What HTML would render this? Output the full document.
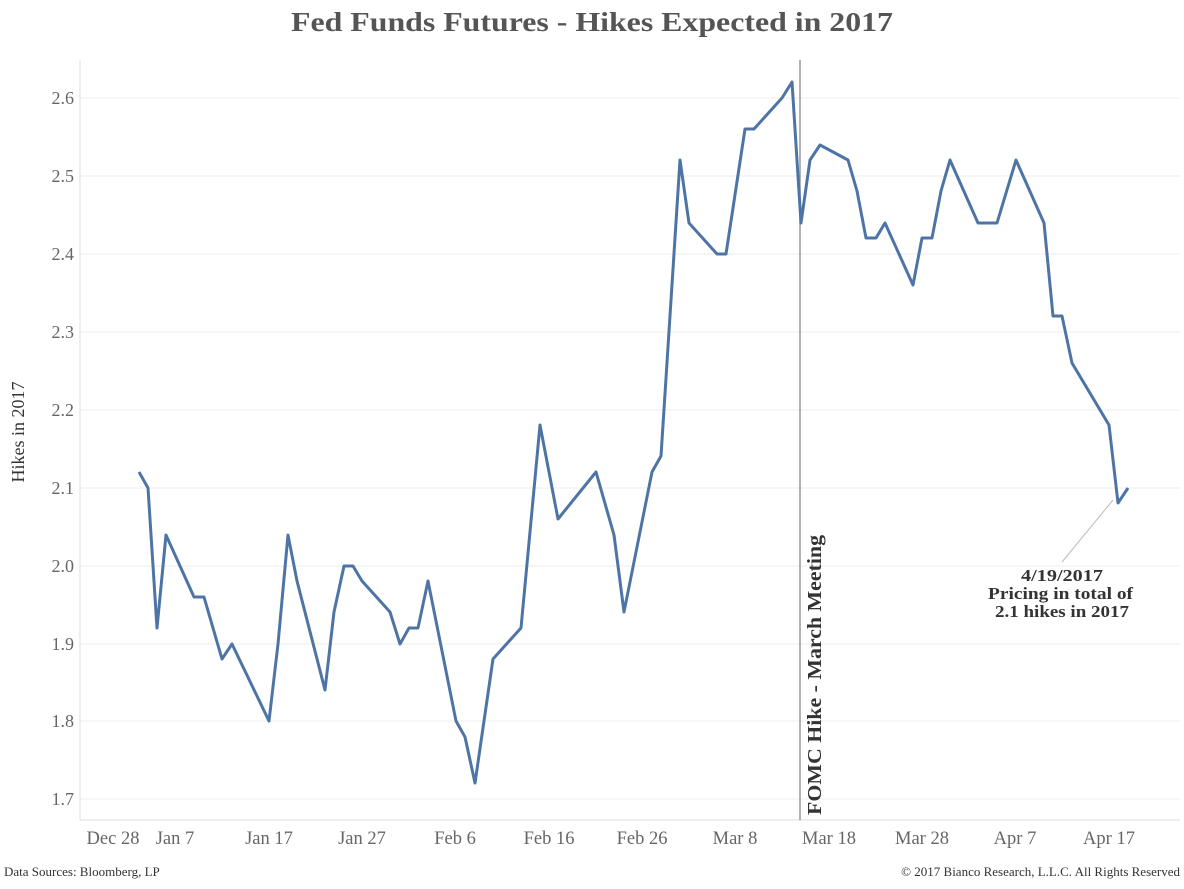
<!DOCTYPE html>
<html><head><meta charset="utf-8"><style>
body{margin:0;background:#fff;}
svg text{font-family:"Liberation Serif",serif;}
</style></head><body>
<svg width="1184" height="884" viewBox="0 0 1184 884" xmlns="http://www.w3.org/2000/svg">
<rect width="1184" height="884" fill="#fff"/>
<text x="291" y="31" font-size="27" font-weight="bold" fill="#555" textLength="602" lengthAdjust="spacingAndGlyphs">Fed Funds Futures - Hikes Expected in 2017</text>
<g stroke="#ececec" stroke-width="1">
<line x1="80" x2="1180" y1="98" y2="98"/><line x1="80" x2="1180" y1="176" y2="176"/><line x1="80" x2="1180" y1="254" y2="254"/><line x1="80" x2="1180" y1="332" y2="332"/><line x1="80" x2="1180" y1="410" y2="410"/><line x1="80" x2="1180" y1="488" y2="488"/><line x1="80" x2="1180" y1="566" y2="566"/><line x1="80" x2="1180" y1="644" y2="644"/><line x1="80" x2="1180" y1="721" y2="721"/><line x1="80" x2="1180" y1="799" y2="799"/>
</g>
<line x1="80" x2="80" y1="60" y2="820" stroke="#ddd"/>
<line x1="80" x2="1180" y1="820" y2="820" stroke="#ddd"/>
<g font-size="18" fill="#666" text-anchor="end">
<text x="74" y="104">2.6</text><text x="74" y="182">2.5</text><text x="74" y="260">2.4</text><text x="74" y="338">2.3</text><text x="74" y="416">2.2</text><text x="74" y="494">2.1</text><text x="74" y="572">2.0</text><text x="74" y="650">1.9</text><text x="74" y="727">1.8</text><text x="74" y="805">1.7</text>
</g>
<text transform="translate(24,432) rotate(-90)" text-anchor="middle" font-size="18" fill="#333">Hikes in 2017</text>
<g font-size="18.5" fill="#666" text-anchor="middle">
<text x="113" y="844">Dec 28</text><text x="175" y="844">Jan 7</text><text x="269" y="844">Jan 17</text><text x="362" y="844">Jan 27</text><text x="455" y="844">Feb 6</text><text x="549" y="844">Feb 16</text><text x="642" y="844">Feb 26</text><text x="735" y="844">Mar 8</text><text x="829" y="844">Mar 18</text><text x="922" y="844">Mar 28</text><text x="1015" y="844">Apr 7</text><text x="1109" y="844">Apr 17</text>
</g>
<line x1="800" x2="800" y1="60" y2="820" stroke="#999" stroke-width="1.5"/>
<text transform="translate(821,815) rotate(-90)" font-size="20" font-weight="bold" fill="#333" textLength="280" lengthAdjust="spacingAndGlyphs">FOMC Hike - March Meeting</text>
<polyline fill="none" stroke="#4e74a6" stroke-width="3" stroke-linejoin="round" points="139,472 148,488 157,628 166,535 194,597 204,597 222,659 232,644 269,721 278,644 288,535 297,581 325,690 334,612 344,566 353,566 362,581 390,612 400,644 409,628 418,628 428,581 456,721 465,737 475,783 493,659 521,628 540,425 558,519 596,472 614,535 624,612 652,472 661,456 680,160 689,223 717,254 726,254 745,129 754,129 782,98 792,82 801,223 810,160 820,145 848,160 857,191 866,238 876,238 885,223 913,285 922,238 932,238 941,191 950,160 978,223 988,223 997,223 1016,160 1044,223 1053,316 1062,316 1072,363 1109,425 1118,503 1128,488"/>
<line x1="1113" y1="500" x2="1062" y2="562" stroke="#bbb" stroke-width="1"/>
<g font-size="16.5" font-weight="bold" fill="#333">
<text x="1021" y="581" textLength="82" lengthAdjust="spacingAndGlyphs">4/19/2017</text>
<text x="988" y="599" textLength="145" lengthAdjust="spacingAndGlyphs">Pricing in total of</text>
<text x="995" y="617" textLength="134" lengthAdjust="spacingAndGlyphs">2.1 hikes in 2017</text>
</g>
<text x="4" y="876" font-size="13" fill="#333">Data Sources: Bloomberg, LP</text>
<text x="1180" y="876" font-size="13" fill="#333" text-anchor="end">© 2017 Bianco Research, L.L.C. All Rights Reserved</text>
</svg>
</body></html>
